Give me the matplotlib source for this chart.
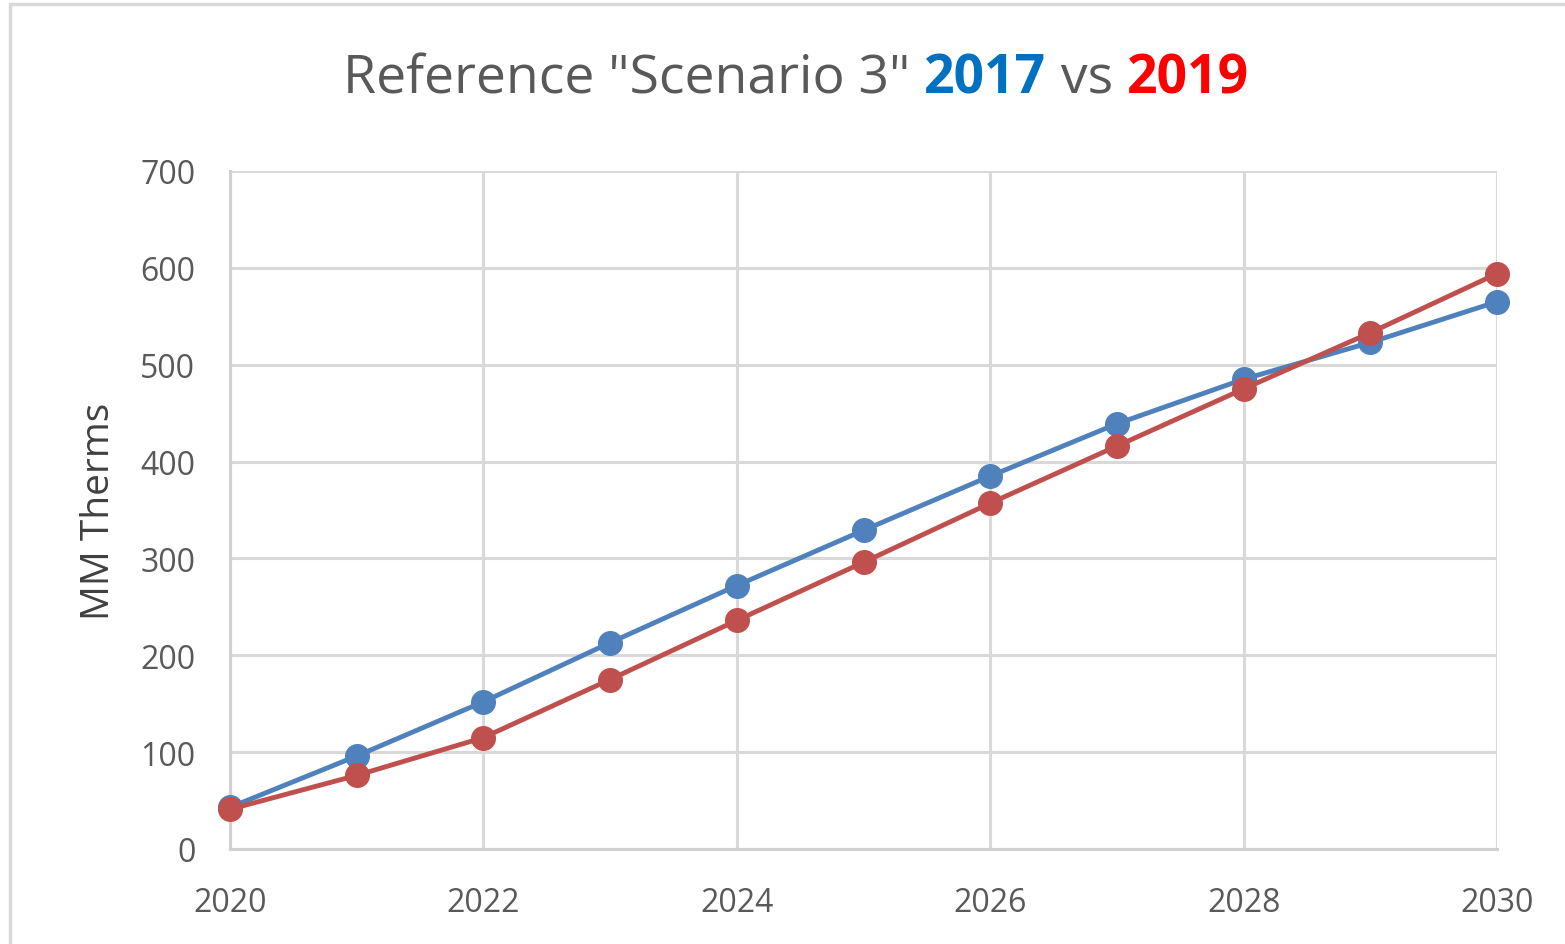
import matplotlib
matplotlib.use("Agg")
import matplotlib.pyplot as plt
from matplotlib.patches import Rectangle

years = [2020, 2021, 2022, 2023, 2024, 2025, 2026, 2027, 2028, 2029, 2030]
s2017 = [43, 96, 152, 213, 272, 329, 385, 439, 485, 523, 565]
s2019 = [41, 76, 115, 175, 236, 296, 357, 416, 475, 533, 594]
xticks = [2020, 2022, 2024, 2026, 2028, 2030]
yticks = [0, 100, 200, 300, 400, 500, 600, 700]

FONT = ["Open Sans", "DejaVu Sans"]
plt.rcParams['font.family'] = FONT

W, H = 1565, 945
fig = plt.figure(figsize=(W/100, H/100), dpi=100)
fig.patch.set_facecolor("white")
# outer frame
fig.patches.append(Rectangle((10/W, -0.01), 1.2, (H-5)/H + 0.01, transform=fig.transFigure,
                             fill=False, edgecolor="#d9d9d9", linewidth=2.5))

ax = fig.add_axes([230/W, 1-850/H, (1497-230)/W, (850-172)/H])
ax.plot(years, s2017, color="#4f81bd", lw=3.5, marker="o", ms=17, zorder=3, clip_on=False)
ax.plot(years, s2019, color="#c0504d", lw=3.5, marker="o", ms=17, zorder=4, clip_on=False)
ax.set_xlim(2020, 2030)
ax.set_ylim(0, 700)
ax.set_xticks(xticks)
ax.set_yticks(yticks)
ax.grid(True, color="#d9d9d9", lw=2.2)
ax.set_axisbelow(True)
for s in ["top", "right"]:
    ax.spines[s].set_visible(False)
for s in ["left", "bottom"]:
    ax.spines[s].set_color("#d0d0d0")
    ax.spines[s].set_linewidth(2.2)
ax.tick_params(length=0, labelsize=23, colors="#595959")
ax.tick_params(axis="y", pad=25)
ax.tick_params(axis="x", pad=27)
ax.set_ylabel("MM Therms", fontsize=28, color="#404040", labelpad=16)

# title with colored parts
parts = [('Reference "Scenario 3" ', "#595959", "normal"),
         ("2017", "#0070c0", "bold"),
         (" vs ", "#595959", "normal"),
         ("2019", "#ff0000", "bold")]
fig.canvas.draw()
r = fig.canvas.get_renderer()
texts = []
total = 0
for s, c, w in parts:
    t = fig.text(0, 1-80/H, s, color=c, fontweight=w, fontsize=38.5, va="center", ha="left")
    bb = t.get_window_extent(renderer=r)
    texts.append((t, bb.width))
    total += bb.width
x0 = 796 - total/2
for t, wdt in texts:
    t.set_x(x0/W)
    x0 += wdt

fig.savefig("out.png", dpi=100)
